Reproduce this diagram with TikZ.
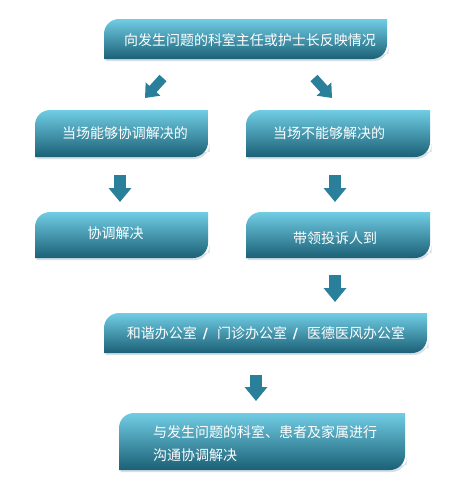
\documentclass[tikz,border=0pt]{standalone}
\usepackage{fontspec}
\setmainfont{Noto Sans CJK SC}
\newfontfamily\slashfont{DejaVu Sans}
\usetikzlibrary{arrows.meta}
\definecolor{boxtop}{RGB}{112,205,228}
\definecolor{boxmid}{RGB}{52,148,176}
\definecolor{boxbot}{RGB}{27,96,118}
\definecolor{arrowc}{RGB}{42,128,154}
\definecolor{shadowc}{RGB}{214,224,229}
\newcommand\boxpath[4]{(#1,-#4) -- (#1,{-#2-15}) .. controls (#1,{-#2-6.7}) and ({#1+6.7},-#2) .. ({#1+15},-#2) -- (#3,-#2) -- (#3,{-#4+15}) .. controls (#3,{-#4+6.7}) and ({#3-6.7},-#4) .. ({#3-15},-#4) -- cycle}
\newcommand\flowbox[5]{%
  \fill[shadowc] ({#2+1.5},{-#5-2}) -- ({#2+1.5},{-#5+5}) -- ({#4+1.5},{-#5+5}) -- ({#4+1.5},{-#5+13}) .. controls ({#4+1.5},{-#5+4.7}) and ({#4-5.2},{-#5-2}) .. ({#4-13.5},{-#5-2}) -- cycle;
  \shade[top color=boxtop,middle color=boxmid,bottom color=boxbot] \boxpath{#2}{#3}{#4}{#5};
  \node[boxnode,minimum width={(#4-#2)*1pt},minimum height={(#5-#3)*1pt}] (#1) at ({(#2+#4)/2},{-(#3+#5)/2}) {};
}
\tikzset{
  boxnode/.style={inner sep=0pt,outer sep=0pt},
  label/.style={text=white,font=\fontsize{14}{16}\selectfont,inner sep=0pt},
  blockarrow/.style={draw=arrowc,line width=12pt,-{Triangle[width=22pt,length=14pt]}},
  diagarrow/.style={draw=arrowc,line width=9.5pt,-{Triangle[width=19pt,length=12pt]}},
}
\begin{document}
\begin{tikzpicture}[x=1pt,y=1pt]
\useasboundingbox[fill=white] (0,0) rectangle (472,-496);
\flowbox{b1}{104}{19}{387}{59}
\flowbox{b2}{35}{110}{208}{157}
\flowbox{b3}{246}{110}{430}{157}
\flowbox{b4}{35}{212}{208}{258}
\flowbox{b5}{246}{212}{430}{258}
\flowbox{b6}{104}{313}{427}{353}
\flowbox{b7}{119}{413}{405}{470}
\node[label] (t1) at (250,-40) {向发生问题的科室主任或护士长反映情况};
\node[label] (t2) at (125,-133) {当场能够协调解决的};
\node[label] (t3) at (329,-133) {当场不能够解决的};
\node[label] (t4) at (115.5,-233) {协调解决};
\node[label] (t5) at (335,-238) {带领投诉人到};
\node[label] (t6) at (266,-333) {和谐办公室\hspace{6pt}{\slashfont\bfseries /}\hspace{9pt}门诊办公室\hspace{6pt}{\slashfont\bfseries /}\hspace{9pt}医德医风办公室};
\node[label,anchor=west,align=left,font=\fontsize{14}{23}\selectfont] (t7) at (153,-443.5) {与发生问题的科室、患者及家属进行\\沟通协调解决};
% connectors
\coordinate (a1s) at (163,-78);
\coordinate (a1e) at (145,-98);
\coordinate (a2s) at (314,-78);
\coordinate (a2e) at (332,-98);
\coordinate (a3s) at (120,-175);
\coordinate (a3e) at (120,-202);
\coordinate (a4s) at (335,-175);
\coordinate (a4e) at (335,-202);
\coordinate (a5s) at (335,-275);
\coordinate (a5e) at (335,-302);
\coordinate (a6s) at (256,-375);
\coordinate (a6e) at (256,-401);
\draw[diagarrow] (a1s) -- (a1e);
\draw[diagarrow] (a2s) -- (a2e);
\draw[blockarrow] (a3s) -- (a3e);
\draw[blockarrow] (a4s) -- (a4e);
\draw[blockarrow] (a5s) -- (a5e);
\draw[blockarrow] (a6s) -- (a6e);
\end{tikzpicture}
\end{document}
